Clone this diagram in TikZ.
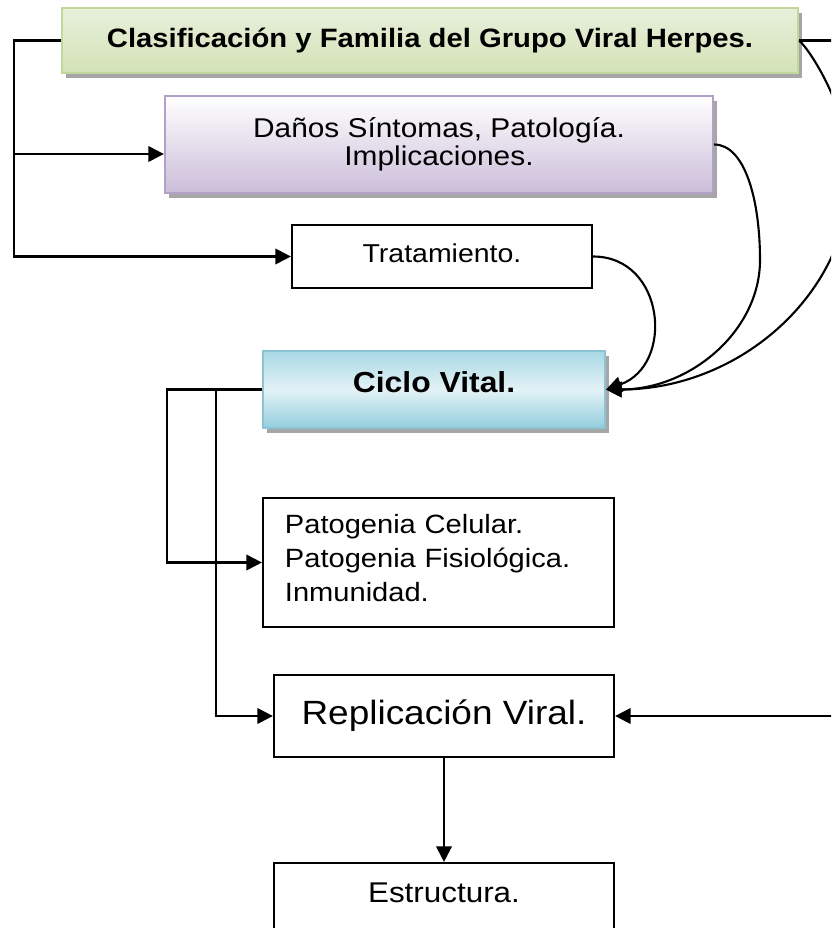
\documentclass[tikz,border=0pt]{standalone}
\usepackage{fontspec}
\setmainfont{Liberation Sans}[FakeStretch=1.1]
\usetikzlibrary{arrows.meta, shadows}

\definecolor{verdeborde}{HTML}{C3D69B}
\definecolor{verdearriba}{HTML}{E8F0DC}
\definecolor{verdeabajo}{HTML}{D3E2B6}
\definecolor{moradoborde}{HTML}{B2A1C7}
\definecolor{moradoabajo}{HTML}{CBBDD9}
\definecolor{azulborde}{HTML}{8CC4D6}
\definecolor{azularriba}{HTML}{A8D8E4}
\definecolor{azulmedio}{HTML}{E3F2F6}
\definecolor{azulabajo}{HTML}{93CDDD}

\begin{document}
\begin{tikzpicture}[x=0.025cm, y=-0.025cm,
    caja/.style={draw, line width=1.5pt, inner sep=0pt},
    sombra/.style={drop shadow={shadow xshift=0.1cm, shadow yshift=-0.13cm, fill=black!35, opacity=1}},
    flecha/.style={line width=1.5pt, -{Triangle[length=11pt, width=11pt]}}]

    \useasboundingbox (0,0) rectangle (831,928);
    \clip (0,0) rectangle (831,928);

    % Cajas de arriba
    \node[caja, sombra, draw=verdeborde, top color=verdearriba, bottom color=verdeabajo,
          minimum width=18.4cm, minimum height=1.625cm,
          font=\bfseries\fontsize{18.9}{22}\selectfont] (clas) at (430,40.5)
          {Clasificación y Familia del Grupo Viral Herpes.};
    \node[caja, sombra, draw=moradoborde, top color=white, bottom color=moradoabajo,
          minimum width=13.7cm, minimum height=2.425cm, align=center,
          font=\fontsize{19.3}{19.9}\selectfont] (danos) at (439,144.5)
          {Daños Síntomas, Patología.\\Implicaciones.};
    \node[caja, minimum width=7.5cm, minimum height=1.575cm, text height=0.47cm, text depth=0.15cm,
          font=\fontsize{18.4}{22}\selectfont] (trat) at (442,256.5) {Tratamiento.};

    % Ciclo vital y lo que sigue
    \node[caja, sombra, draw=azulborde, top color=azularriba, bottom color=azulabajo, middle color=azulmedio,
          minimum width=8.55cm, minimum height=1.925cm, text height=0.53cm, text depth=0.37cm,
          font=\bfseries\fontsize{20.6}{24}\selectfont] (ciclo) at (434,389.5) {Ciclo Vital.};
    \node[caja, minimum width=8.775cm, minimum height=3.225cm, inner xsep=0.55cm,
          text width=7.675cm, align=left, text depth=1.95cm,
          font=\fontsize{18.8}{24.5}\selectfont] (patog) at (438.5,562.5)
          {Patogenia Celular.\\Patogenia Fisiológica.\\Inmunidad.};
    \node[caja, minimum width=8.5cm, minimum height=2.05cm,
          font=\fontsize{23.9}{28}\selectfont] (replic) at (444,716) {Replicación Viral.};
    \node[caja, minimum width=8.5cm, minimum height=2.25cm, text height=0.5cm, text depth=0.77cm,
          font=\fontsize{20.3}{24}\selectfont] (estru) at (444,908) {Estructura.};

    % Puntos de quiebre
    \coordinate (tronco) at (14,40.5);
    \coordinate (ramal) at (14,154);
    \coordinate (cv1) at (167,389.5);
    \coordinate (cv2) at (216,389.5);
    \coordinate (derecha) at (880,40.5);

    % Conectores rectos
    \draw[flecha] (clas.west) -- (tronco) |- (trat.west);
    \draw[flecha] (ramal) -- (ramal -| danos.west);
    \draw[flecha] (ciclo.west) -- (cv1) |- (patog.west);
    \draw[flecha] (cv2) |- (replic.west);
    \draw[flecha] (clas.east) -- (derecha) |- (replic.east);
    \draw[flecha] (replic.south) -- (estru.north);

    % Curvas hacia el ciclo vital
    \draw[flecha] (trat.east) .. controls (665,256.5) and (675,365) .. (ciclo.east);
    \draw[flecha] (danos.east) .. controls (745,144.5) and (760,200) .. (760,260)
        .. controls (760,330.7) and (690.6,389.5) .. (ciclo.east);
    \draw[flecha] (clas.east) .. controls (810,50) and (850,110) .. (850,175)
        .. controls (850,292.6) and (740.3,389.5) .. (ciclo.east);
\end{tikzpicture}
\end{document}
